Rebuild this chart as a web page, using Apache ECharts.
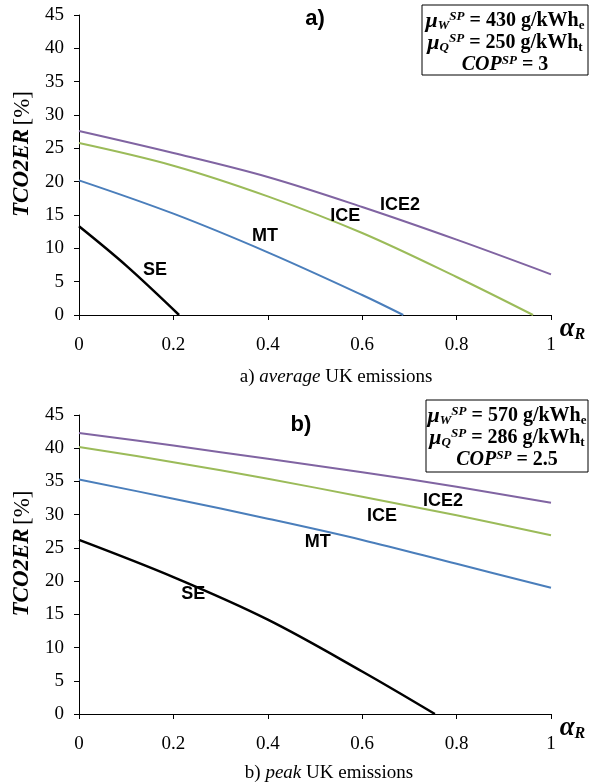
<!DOCTYPE html>
<html>
<head>
<meta charset="utf-8">
<script src="https://cdn.jsdelivr.net/npm/echarts@6/dist/echarts.min.js"></script>
<style>
  html, body { margin: 0; padding: 0; background: #fff; }
  #main { width: 590px; height: 783px; }
</style>
</head>
<body>
<div id="main"></div>
<script>
// x axis (alpha_R) ticks and y ticks
var xTicks = [0, 0.2, 0.4, 0.6, 0.8, 1];
var yTicks = [0, 5, 10, 15, 20, 25, 30, 35, 40, 45];

// panel a) average UK emissions
var ice2A_x = [0, 0.2, 0.4, 0.6, 0.8, 1];
var ice2A   = [27.6, 24.3, 20.7, 16.2, 11.3, 6.1];
var iceA_x  = [0, 0.2, 0.4, 0.6, 0.8, 0.962];
var iceA    = [25.8, 22.4, 17.8, 12.3, 5.7, 0];
var mtA_x   = [0, 0.2, 0.4, 0.6, 0.687];
var mtA     = [20.2, 15.2, 9.4, 3.0, 0];
var seA_x   = [0, 0.1, 0.212];
var seA     = [13.3, 7.4, 0];

// panel b) peak UK emissions
var ice2B_x = [0, 0.2, 0.4, 0.6, 0.8, 1];
var ice2B   = [42.3, 40.4, 38.4, 36.4, 34.2, 31.8];
var iceB_x  = [0, 0.2, 0.4, 0.6, 0.8, 1];
var iceB    = [40.2, 37.9, 35.4, 32.7, 29.9, 26.9];
var mtB_x   = [0, 0.2, 0.4, 0.6, 0.8, 1];
var mtB     = [35.3, 32.4, 29.4, 26.2, 22.6, 19.0];
var seB_x   = [0, 0.2, 0.4, 0.6, 0.754];
var seB     = [26.2, 20.6, 14.2, 6.4, 0];

// where the curve names sit, in data units [alpha, value]
var labelsA = { SE: [0.161, 6.75], MT: [0.394, 11.85], ICE: [0.564, 14.85], ICE2: [0.68, 16.5] };
var labelsB = { SE: [0.242, 18.1], MT: [0.506, 25.9], ICE: [0.642, 29.8], ICE2: [0.771, 32.1] };

var serif = '"Liberation Serif", "Times New Roman", serif';
var sans = '"Liberation Sans", Arial, sans-serif';

function pairs(xs, ys) {
  return xs.map(function (x, i) { return [x, ys[i]]; });
}

function mkSeries(name, xs, ys, color, width, idx, lab) {
  return {
    name: name,
    type: 'line',
    xAxisIndex: idx,
    yAxisIndex: idx,
    data: pairs(xs, ys),
    smooth: 0.35,
    showSymbol: false,
    symbol: 'none',
    lineStyle: { color: color, width: width },
    z: 3,
    markPoint: {
      symbol: 'circle',
      symbolSize: 0,
      label: {
        show: true,
        position: 'inside',
        formatter: name,
        color: '#000',
        fontFamily: sans,
        fontWeight: 'bold',
        fontSize: 18
      },
      data: [{ coord: lab[name] }]
    }
  };
}

function xAx(idx) {
  return {
    type: 'value', gridIndex: idx, min: 0, max: 1, interval: 0.2,
    name: '{a|α}{r|R}',
    nameLocation: 'end', nameGap: 6,
    nameTextStyle: {
      padding: [28, 0, 0, 0],
      rich: {
        a: { fontFamily: serif, fontWeight: 'bold', fontStyle: 'italic', fontSize: 27, color: '#000' },
        r: { fontFamily: serif, fontWeight: 'bold', fontStyle: 'italic', fontSize: 16, color: '#000', verticalAlign: 'bottom', padding: [10, 0, 0, 0] }
      }
    },
    axisLine: { lineStyle: { color: '#000', width: 1 } },
    axisTick: { show: true, inside: false, length: 5, lineStyle: { color: '#000' } },
    axisLabel: { color: '#000', fontFamily: serif, fontSize: 19, margin: 21 },
    splitLine: { show: false }
  };
}

function yAx(idx) {
  return {
    type: 'value', gridIndex: idx, min: 0, max: 45, interval: 5,
    name: '{b|TCO2ER} {n|[%]}',
    nameLocation: 'middle', nameGap: 45, nameRotate: 90,
    nameTextStyle: {
      padding: [0, 0, 0, 22],
      rich: {
        b: { fontFamily: serif, fontWeight: 'bold', fontStyle: 'italic', fontSize: 23, color: '#000' },
        n: { fontFamily: serif, fontSize: 23, color: '#000' }
      }
    },
    axisLine: { show: true, lineStyle: { color: '#000', width: 1 } },
    axisTick: { show: true, inside: false, length: 5, lineStyle: { color: '#000' } },
    axisLabel: { color: '#000', fontFamily: serif, fontSize: 19, margin: 15 },
    splitLine: { show: false }
  };
}

var boxRich = {
  mu: { fontFamily: serif, fontWeight: 'bold', fontStyle: 'italic', fontSize: 22, fill: '#000', lineHeight: 22 },
  sub: { fontFamily: serif, fontWeight: 'bold', fontStyle: 'italic', fontSize: 13, fill: '#000', verticalAlign: 'bottom' },
  sup: { fontFamily: serif, fontWeight: 'bold', fontStyle: 'italic', fontSize: 13, fill: '#000', verticalAlign: 'top' },
  bd: { fontFamily: serif, fontWeight: 'bold', fontSize: 20, fill: '#000', lineHeight: 22 },
  bs: { fontFamily: serif, fontWeight: 'bold', fontSize: 13, fill: '#000', verticalAlign: 'bottom' },
  it: { fontFamily: serif, fontWeight: 'bold', fontStyle: 'italic', fontSize: 20, fill: '#000', lineHeight: 22 }
};

function infoBox(x, y, w, h, w1, q1, cop) {
  return [
    { type: 'rect', shape: { x: x, y: y, width: w, height: h },
      style: { fill: '#fff', stroke: '#000', lineWidth: 1 }, z: 10 },
    { type: 'text', x: x + w / 2, y: y + 5, z: 11,
      style: {
        text: '{mu|μ}{sub|W}{sup|SP}{bd| = ' + w1 + ' g/kWh}{bs|e}\n' +
              '{mu|μ}{sub|Q}{sup|SP}{bd| = ' + q1 + ' g/kWh}{bs|t}\n' +
              '{it|COP}{sup|SP}{bd| = ' + cop + '}',
        align: 'center', verticalAlign: 'top', rich: boxRich, fill: '#000'
      } }
  ];
}

var capRich = {
  n: { fontFamily: serif, fontSize: 19, fill: '#000' },
  i: { fontFamily: serif, fontStyle: 'italic', fontSize: 19, fill: '#000' }
};

var myChart = echarts.init(document.getElementById('main'));
var option = {
  backgroundColor: '#fff',
  animation: false,
  grid: [
    { left: 79, right: 39, top: 15, height: 300 },
    { left: 79, right: 39, top: 415, height: 299 }
  ],
  xAxis: [xAx(0), xAx(1)],
  yAxis: [yAx(0), yAx(1)],
  series: [
    mkSeries('ICE2', ice2A_x, ice2A, '#8064A2', 2, 0, labelsA),
    mkSeries('ICE', iceA_x, iceA, '#9BBB59', 2, 0, labelsA),
    mkSeries('MT', mtA_x, mtA, '#4A7EBB', 2, 0, labelsA),
    mkSeries('SE', seA_x, seA, '#000', 2.5, 0, labelsA),
    mkSeries('ICE2', ice2B_x, ice2B, '#8064A2', 2, 1, labelsB),
    mkSeries('ICE', iceB_x, iceB, '#9BBB59', 2, 1, labelsB),
    mkSeries('MT', mtB_x, mtB, '#4A7EBB', 2, 1, labelsB),
    mkSeries('SE', seB_x, seB, '#000', 2.5, 1, labelsB)
  ],
  graphic: [].concat(
    infoBox(422, 5, 166, 70, 430, 250, '3'),
    infoBox(426, 400, 162, 72, 570, 286, '2.5'),
    [
      { type: 'text', x: 315, y: 19, z: 11,
        style: { text: 'a)', font: 'bold 22px ' + sans, fill: '#000', align: 'center', verticalAlign: 'middle' } },
      { type: 'text', x: 301, y: 425, z: 11,
        style: { text: 'b)', font: 'bold 22px ' + sans, fill: '#000', align: 'center', verticalAlign: 'middle' } },
      { type: 'text', x: 336, y: 377, z: 11,
        style: { text: '{n|a) }{i|average}{n| UK emissions}', rich: capRich, align: 'center', verticalAlign: 'middle' } },
      { type: 'text', x: 329, y: 773, z: 11,
        style: { text: '{n|b) }{i|peak}{n| UK emissions}', rich: capRich, align: 'center', verticalAlign: 'middle' } }
    ]
  )
};
myChart.setOption(option);
</script>
</body>
</html>
